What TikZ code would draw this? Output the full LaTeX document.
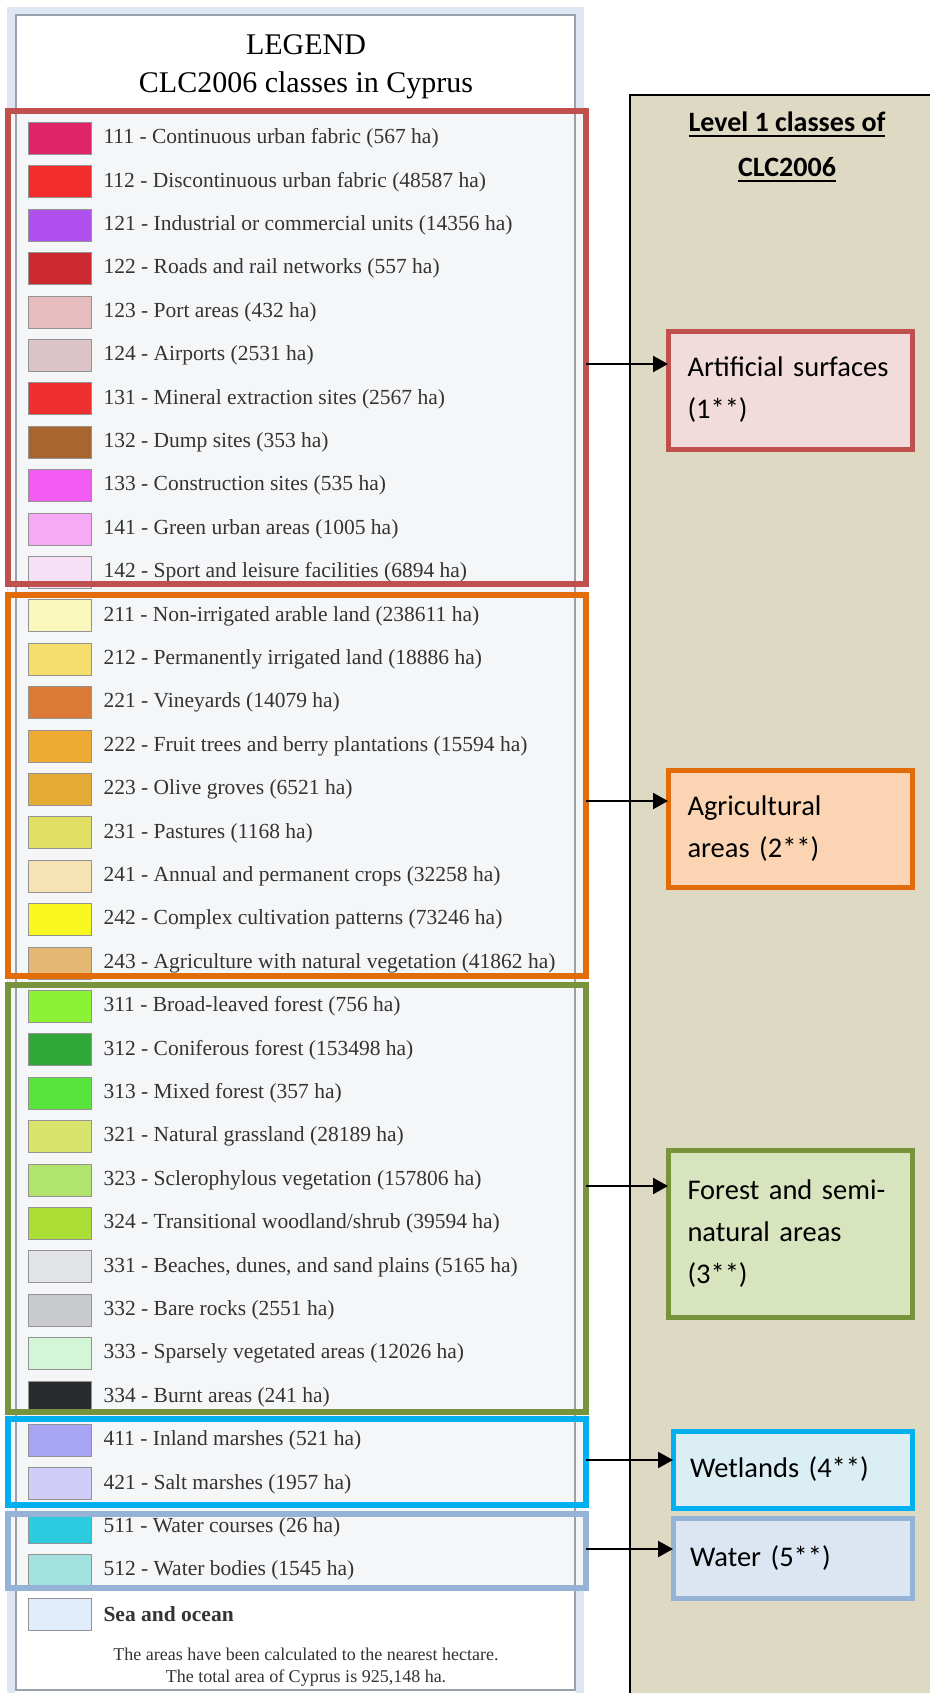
\documentclass[tikz,border=0pt]{standalone}
\usepackage{fontspec}
\setmainfont{Liberation Serif}
\newfontfamily\calibri{Carlito}
\usetikzlibrary{positioning, arrows.meta}

% thick underline for the panel title
\newcommand{\ulthick}[1]{\setbox0\hbox{#1}\rlap{\rule[-5pt]{\wd0}{2pt}}\box0}

% group and class colours
\definecolor{grpRed}{HTML}{C0504D}
\definecolor{grpOrange}{HTML}{E36C0A}
\definecolor{grpGreen}{HTML}{77933C}
\definecolor{grpCyan}{HTML}{00B0F0}
\definecolor{grpBlue}{HTML}{95B3D7}
\definecolor{fillRed}{HTML}{F2DCDB}
\definecolor{fillOrange}{HTML}{FBD4B4}
\definecolor{fillGreen}{HTML}{D7E4BD}
\definecolor{fillCyan}{HTML}{DAEEF3}
\definecolor{fillBlue}{HTML}{DCE6F2}
\definecolor{panelTan}{HTML}{DDD9C3}
\definecolor{frameBand}{HTML}{DDE6F1}
\definecolor{frameLine}{HTML}{9AA1AA}
\definecolor{rowBack}{HTML}{F5F6F8}
\definecolor{textGray}{HTML}{333333}
% CLC swatches
\definecolor{c111}{HTML}{E02468}
\definecolor{c112}{HTML}{F22B2B}
\definecolor{c121}{HTML}{B050EE}
\definecolor{c122}{HTML}{CC2A30}
\definecolor{c123}{HTML}{E6BCBE}
\definecolor{c124}{HTML}{DCC4C8}
\definecolor{c131}{HTML}{EE2F2F}
\definecolor{c132}{HTML}{A8652E}
\definecolor{c133}{HTML}{F25CF2}
\definecolor{c141}{HTML}{F6AAF6}
\definecolor{c142}{HTML}{F6E0F6}
\definecolor{c211}{HTML}{FAF7BC}
\definecolor{c212}{HTML}{F5DE6E}
\definecolor{c221}{HTML}{DB7A35}
\definecolor{c222}{HTML}{EEAA33}
\definecolor{c223}{HTML}{E5AB35}
\definecolor{c231}{HTML}{E2E064}
\definecolor{c241}{HTML}{F6E2B2}
\definecolor{c242}{HTML}{F8F820}
\definecolor{c243}{HTML}{E4B872}
\definecolor{c311}{HTML}{8CF236}
\definecolor{c312}{HTML}{30A838}
\definecolor{c313}{HTML}{58E43C}
\definecolor{c321}{HTML}{D8E46C}
\definecolor{c323}{HTML}{B0E46C}
\definecolor{c324}{HTML}{AADE34}
\definecolor{c331}{HTML}{E2E3E6}
\definecolor{c332}{HTML}{C9CACD}
\definecolor{c333}{HTML}{D2F6D6}
\definecolor{c334}{HTML}{2A2B2D}
\definecolor{c411}{HTML}{A8A6F4}
\definecolor{c421}{HTML}{D0CEF8}
\definecolor{c511}{HTML}{2CCCE0}
\definecolor{c512}{HTML}{A4E2E2}
\definecolor{cSea}{HTML}{E2EDFB}

\begin{document}
\begin{tikzpicture}[x=1pt, y=-1pt,
  every node/.style={inner sep=0pt, outer sep=0pt},
  grpbox/.style={draw, line width=6pt, minimum width=578pt},
  clsbox/.style={draw, line width=5pt, minimum width=244pt, text width=205pt, inner xsep=19.5pt, align=left, font=\calibri\fontsize{28.5}{42}\selectfont},
  swatch/.style={draw=gray!85, line width=1pt, minimum width=63pt, minimum height=32pt},
  rowtext/.style={font=\fontsize{21.5}{24}\selectfont, text=textGray},
  arr/.style={line width=2.2pt, -{Triangle[length=15pt, width=16pt]}},
]
\useasboundingbox (0,0) rectangle (929,1693);
\fill[white] (0,0) rectangle (929,1693);

% legend frame
\draw[frameBand, line width=8pt] (11,11) rectangle (580,1700);
\fill[white] (16,15) rectangle (575,1690);
\fill[rowBack] (8,111) rectangle (586,1588);
\draw[frameLine, line width=2.5pt] (16,15) rectangle (575,1690);

\node[font=\fontsize{30}{36}\selectfont] (ttlLegend) at (306,45) {LEGEND};
\node[font=\fontsize{30}{36}\selectfont] (ttlClasses) at (306,85) {CLC2006 classes in Cyprus};

% legend rows
\foreach \code/\name [count=\k from 0] in {
  111/Continuous urban fabric (567 ha),
  112/Discontinuous urban fabric (48587 ha),
  121/Industrial or commercial units (14356 ha),
  122/Roads and rail networks (557 ha),
  123/Port areas (432 ha),
  124/Airports (2531 ha),
  131/Mineral extraction sites (2567 ha),
  132/Dump sites (353 ha),
  133/Construction sites (535 ha),
  141/Green urban areas (1005 ha),
  142/Sport and leisure facilities (6894 ha),
  211/Non-irrigated arable land (238611 ha),
  212/Permanently irrigated land (18886 ha),
  221/Vineyards (14079 ha),
  222/Fruit trees and berry plantations (15594 ha),
  223/Olive groves (6521 ha),
  231/Pastures (1168 ha),
  241/Annual and permanent crops (32258 ha),
  242/Complex cultivation patterns (73246 ha),
  243/Agriculture with natural vegetation (41862 ha),
  311/Broad-leaved forest (756 ha),
  312/Coniferous forest (153498 ha),
  313/Mixed forest (357 ha),
  321/Natural grassland (28189 ha),
  323/Sclerophylous vegetation (157806 ha),
  324/{Transitional woodland/shrub (39594 ha)},
  331/{Beaches, dunes, and sand plains (5165 ha)},
  332/Bare rocks (2551 ha),
  333/Sparsely vegetated areas (12026 ha),
  334/Burnt areas (241 ha),
  411/Inland marshes (521 ha),
  421/Salt marshes (1957 ha),
  511/Water courses (26 ha),
  512/Water bodies (1545 ha)} {
  \node[swatch, fill=c\code] (sw\code) at (60, {138.5+43.4*\k}) {};
  \node[rowtext, right=12pt of sw\code] (lb\code) {\code{} - \name};
}
\node[swatch, fill=cSea] (swSea) at (60, {138.5+43.4*34}) {};
\node[rowtext, font=\fontsize{21.5}{24}\selectfont\bfseries, right=12pt of swSea] (lbSea) {Sea and ocean};

\node[font=\fontsize{18}{21.5}\selectfont, text=textGray, align=center] (note) at (306,1667)
  {The areas have been calculated to the nearest hectare.\\The total area of Cyprus is 925,148 ha.};

% level 1 groups
\node[grpbox, draw=grpRed, minimum height=473pt] (grpArt) at (297,347.5) {};
\node[grpbox, draw=grpOrange, minimum height=381pt] (grpAgr) at (297,785.5) {};
\node[grpbox, draw=grpGreen, minimum height=427pt] (grpFor) at (297,1198.5) {};
\node[grpbox, draw=grpCyan, minimum height=86pt] (grpWet) at (297,1462) {};
\node[grpbox, draw=grpBlue, minimum height=74pt] (grpWat) at (297,1551) {};

% right panel
\draw[fill=panelTan, line width=2pt] (630,95) rectangle (945,1710);
\node[font=\calibri\bfseries\fontsize{28}{45}\selectfont, align=center] (ttlLevel) at (787,147)
  {\ulthick{Level 1 classes of}\\\ulthick{CLC2006}};

\node[clsbox, draw=grpRed, fill=fillRed, minimum height=118pt] (clsArt) at (790,390) {Artificial surfaces\\(1**)};
\node[clsbox, draw=grpOrange, fill=fillOrange, minimum height=117pt] (clsAgr) at (790,828.5) {Agricultural\\areas (2**)};
\node[clsbox, draw=grpGreen, fill=fillGreen, minimum height=167pt] (clsFor) at (790,1233.5) {Forest and semi-\\natural areas\\(3**)};
\node[clsbox, draw=grpCyan, fill=fillCyan, inner xsep=17pt, minimum width=239pt, minimum height=77pt] (clsWet) at (792.5,1469.5) {Wetlands (4**)};
\node[clsbox, draw=grpBlue, fill=fillBlue, inner xsep=17pt, minimum width=239pt, minimum height=80pt] (clsWat) at (792.5,1558) {Water (5**)};

% connectors
\coordinate (yArt) at (0,364);
\coordinate (yAgr) at (0,801);
\coordinate (yFor) at (0,1186);
\coordinate (yWet) at (0,1460);
\coordinate (yWat) at (0,1549);
\draw[arr] (grpArt.east |- yArt) -- (clsArt.west |- yArt);
\draw[arr] (grpAgr.east |- yAgr) -- (clsAgr.west |- yAgr);
\draw[arr] (grpFor.east |- yFor) -- (clsFor.west |- yFor);
\draw[arr] (grpWet.east |- yWet) -- (clsWet.west |- yWet);
\draw[arr] (grpWat.east |- yWat) -- (clsWat.west |- yWat);
\end{tikzpicture}
\end{document}
